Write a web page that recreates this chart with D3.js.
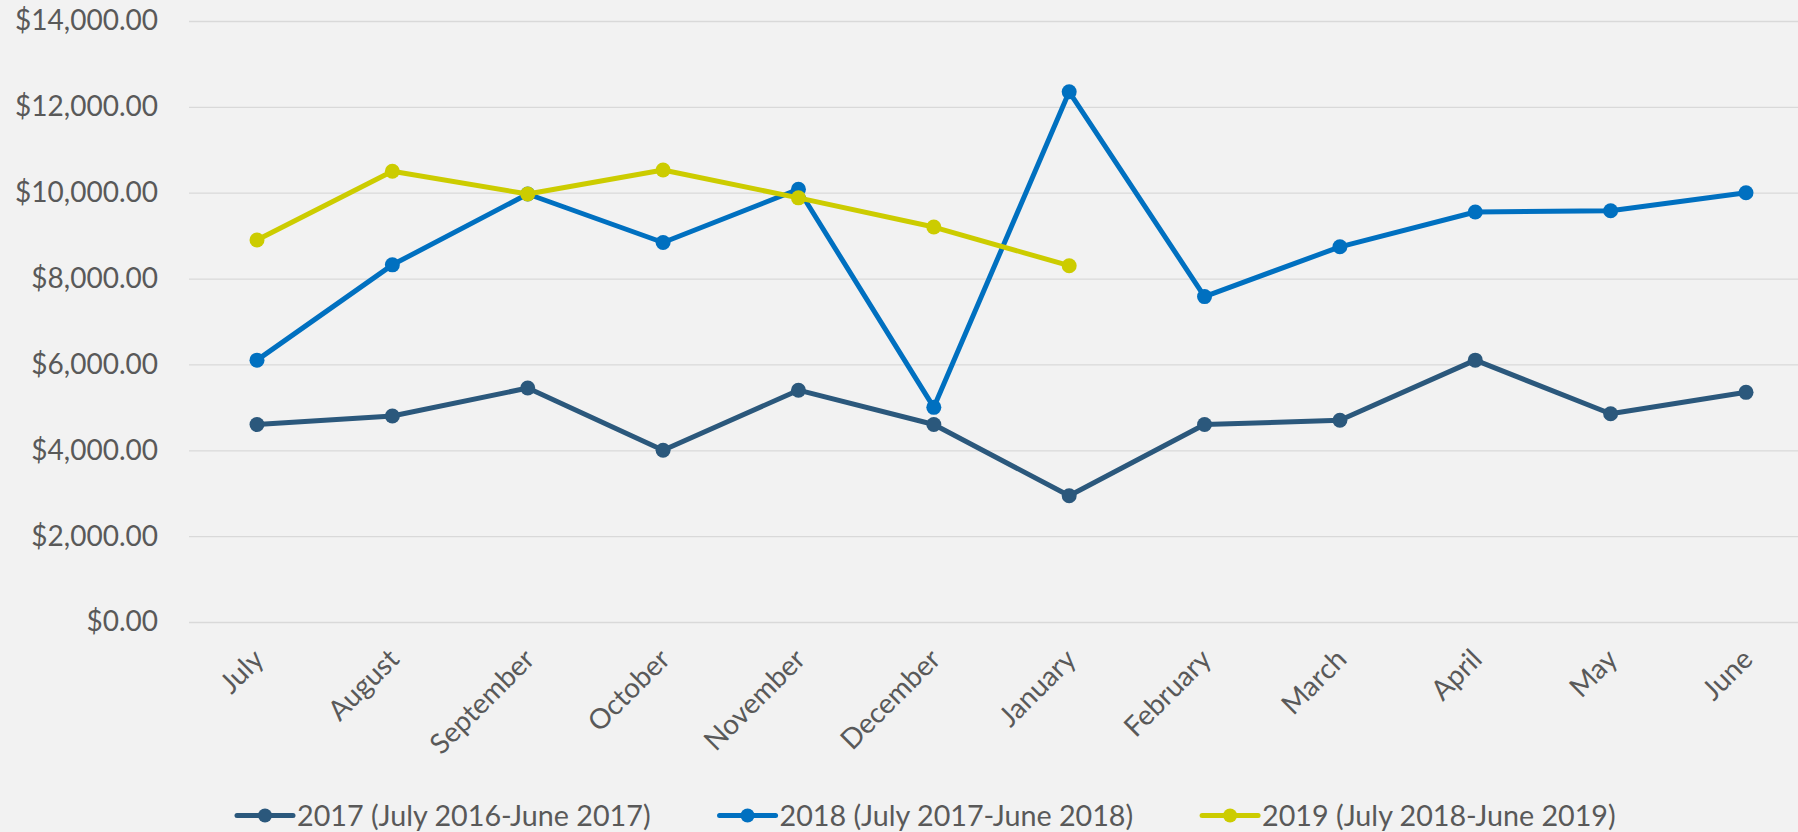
<!DOCTYPE html>
<html lang="en">
<head>
    <meta charset="UTF-8">
    <title>Monthly totals by fiscal year</title>
    <script src="https://d3js.org/d3.v7.min.js"></script>
    <style>
        body {
            margin: 0;
            background-color: #f2f2f2;
            font-family: Lato, "Open Sans", sans-serif;
        }
        svg text {
            fill: #595959;
            font-size: 28px;
        }
        svg .legend text {
            font-size: 28.7px;
        }
    </style>
</head>
<body>
    <div id="chart"></div>
    <script>
        // Months (fiscal year runs July to June)
        const months = ["July", "August", "September", "October", "November", "December",
                        "January", "February", "March", "April", "May", "June"];

        // Series values
        const fy2017 = [4600, 4800, 5450, 4000, 5400, 4600, 2940, 4600, 4700, 6100, 4850, 5350];
        const fy2018 = [6100, 8320, 9970, 8840, 10080, 5000, 12350, 7580, 8740, 9550, 9580, 10000];
        const fy2019 = [8900, 10500, 9970, 10530, 9880, 9200, 8300];

        const seriesNames = ["2017 (July 2016-June 2017)", "2018 (July 2017-June 2018)", "2019 (July 2018-June 2019)"];
        const seriesColors = ["#2b587c", "#0070c0", "#cccc00"];
        const yTicks = [0, 2000, 4000, 6000, 8000, 10000, 12000, 14000];

        const series = [fy2017, fy2018, fy2019].map((vals, i) => ({
            name: seriesNames[i],
            color: seriesColors[i],
            values: vals.map((v, j) => ({month: months[j], value: v}))
        }));

        const width = 1798, height = 832;
        const gridLeft = 189, gridRight = 1813;

        const svg = d3.select("#chart")
          .append("svg")
            .attr("width", width)
            .attr("height", height);

        const x = d3.scalePoint().domain(months).range([257, 1746]);
        const y = d3.scaleLinear().domain([0, 14000]).range([622, 21]);

        // Y axis with gridlines
        const yAxis = svg.append("g")
            .attr("transform", `translate(${gridLeft},0)`)
            .call(d3.axisLeft(y)
                .tickValues(yTicks)
                .tickSize(-(gridRight - gridLeft))
                .tickPadding(31)
                .tickFormat(d => "$" + d3.format(",.2f")(d)));
        yAxis.select(".domain").remove();
        yAxis.selectAll("line").attr("stroke", "#d9d9d9").attr("stroke-width", 1.3);
        yAxis.attr("font-family", null).attr("font-size", null);

        // X axis labels, rotated
        const xAxis = svg.append("g")
            .attr("transform", `translate(0,${y(0)})`)
            .call(d3.axisBottom(x).tickSize(0));
        xAxis.select(".domain").remove();
        xAxis.attr("font-family", null).attr("font-size", null);
        xAxis.selectAll("text")
            .attr("y", 0)
            .attr("dy", 0)
            .attr("text-anchor", "end")
            .attr("transform", "translate(8,39) rotate(-45)");

        const line = d3.line()
            .x(d => x(d.month))
            .y(d => y(d.value));

        const groups = svg.selectAll(".series")
            .data(series)
            .enter()
            .append("g")
            .attr("class", "series");

        groups.append("path")
            .attr("fill", "none")
            .attr("stroke", d => d.color)
            .attr("stroke-width", 5)
            .attr("stroke-linejoin", "round")
            .attr("d", d => line(d.values));

        groups.selectAll("circle")
            .data(d => d.values.map(v => ({...v, color: d.color})))
            .enter()
            .append("circle")
            .attr("cx", d => x(d.month))
            .attr("cy", d => y(d.value))
            .attr("r", 7.5)
            .attr("fill", d => d.color);

        // Legend
        const legendY = 815.5;
        let lx = 237;
        series.forEach(s => {
            const g = svg.append("g")
                .attr("class", "legend")
                .attr("transform", `translate(${lx},${legendY})`);
            g.append("line")
                .attr("x1", 0).attr("x2", 56)
                .attr("stroke", s.color)
                .attr("stroke-width", 5)
                .attr("stroke-linecap", "round");
            g.append("circle").attr("cx", 28).attr("r", 7).attr("fill", s.color);
            const t = g.append("text")
                .attr("x", 60)
                .attr("dy", "0.35em")
                .text(s.name);
            lx += 60 + t.node().getComputedTextLength() + 69;
        });
    </script>
</body>
</html>
